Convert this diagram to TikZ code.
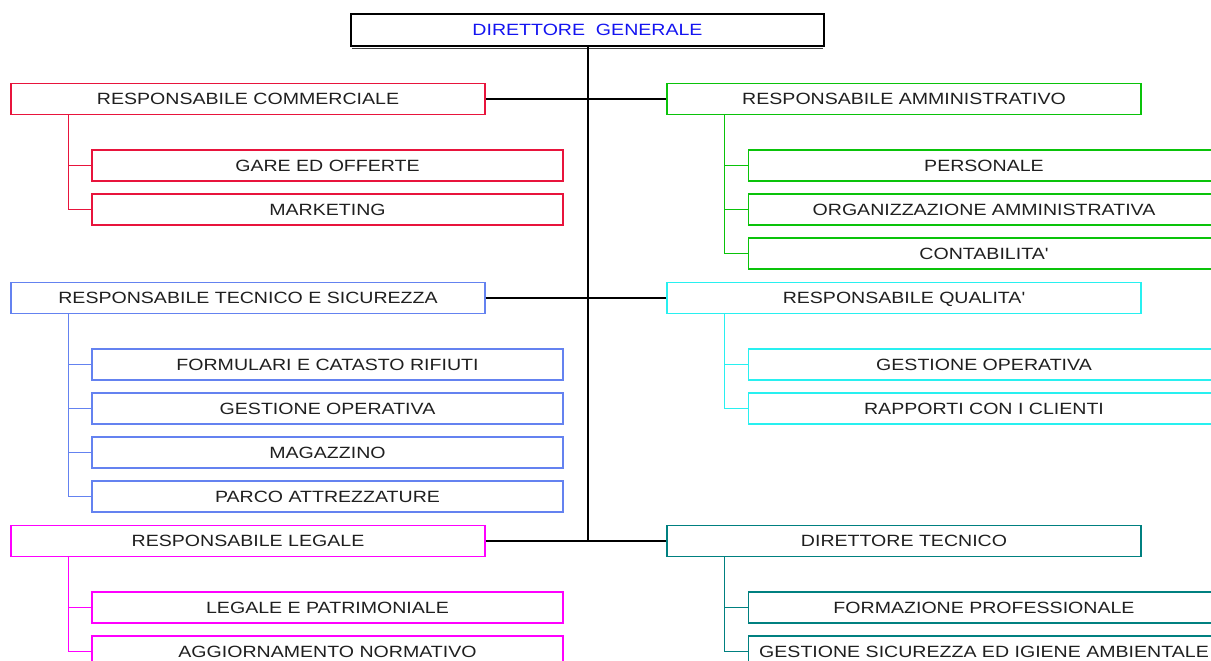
\documentclass[tikz,border=0pt]{standalone}
\usepackage{fontspec}
\newfontfamily\orgfont{Liberation Sans}[FakeStretch=1.2]
\definecolor{rosso}{RGB}{232,20,60}
\definecolor{verde}{RGB}{10,195,10}
\definecolor{blu}{RGB}{100,130,240}
\definecolor{ciano}{RGB}{40,240,240}
\definecolor{viola}{RGB}{255,0,255}
\definecolor{petrolio}{RGB}{0,128,128}
\definecolor{testodg}{RGB}{20,20,240}
\begin{document}
\begin{tikzpicture}[x=1pt,y=-1pt,
  box/.style={draw,line width=1.4pt,minimum height=31pt,inner sep=0pt,
    text height=11.7pt,text depth=0pt,text=black!88,
    font=\orgfont\fontsize{16.3}{18}\selectfont},
  resp/.style={box,draw=#1,minimum width=474pt},
  uff/.style={box,draw=#1,minimum width=471pt},
  ramo/.style={line width=1.5pt}]
    \useasboundingbox (0,0) rectangle (1211,661);
    \clip (0,0) rectangle (1211,661);
    % vertice
    \node[box,line width=2pt,minimum width=473pt,minimum height=32pt,text=testodg] (dg) at (587.5,30) {DIRETTORE\ \ GENERALE};
    \draw[line width=1.2pt,black!75] ([xshift=2pt,yshift=-1.8pt]dg.south west) -- ([xshift=-2pt,yshift=-1.8pt]dg.south east);
    % responsabili
    \node[resp=rosso] (rc) at (248,99) {RESPONSABILE COMMERCIALE};
    \node[resp=verde] (ra) at (904,99) {RESPONSABILE AMMINISTRATIVO};
    \node[resp=blu] (rts) at (248,298) {RESPONSABILE TECNICO E SICUREZZA};
    \node[resp=ciano] (rq) at (904,298) {RESPONSABILE QUALITA'};
    \node[resp=viola] (rl) at (248,541) {RESPONSABILE LEGALE};
    \node[resp=petrolio] (dt) at (904,541) {DIRETTORE TECNICO};
    % uffici
    \node[uff=rosso] (gare) at (327.5,165.5) {GARE ED OFFERTE};
    \node[uff=rosso] (mark) at (327.5,209.5) {MARKETING};
    \node[uff=verde] (pers) at (984,165.5) {PERSONALE};
    \node[uff=verde] (orga) at (984,209.5) {ORGANIZZAZIONE AMMINISTRATIVA};
    \node[uff=verde] (cont) at (984,253.5) {CONTABILITA'};
    \node[uff=blu] (form) at (327.5,364.5) {FORMULARI E CATASTO RIFIUTI};
    \node[uff=blu] (gop) at (327.5,408.5) {GESTIONE OPERATIVA};
    \node[uff=blu] (mag) at (327.5,452.5) {MAGAZZINO};
    \node[uff=blu] (parco) at (327.5,496.5) {PARCO ATTREZZATURE};
    \node[uff=ciano] (gopq) at (984,364.5) {GESTIONE OPERATIVA};
    \node[uff=ciano] (rapp) at (984,408.5) {RAPPORTI CON I CLIENTI};
    \node[uff=viola] (legp) at (327.5,607.5) {LEGALE E PATRIMONIALE};
    \node[uff=viola] (aggn) at (327.5,651.5) {AGGIORNAMENTO NORMATIVO};
    \node[uff=petrolio] (fprof) at (984,607.5) {FORMAZIONE PROFESSIONALE};
    \node[uff=petrolio] (gsic) at (984,651.5) {GESTIONE SICUREZZA ED IGIENE AMBIENTALE};
    % collegamenti
    \draw[line width=2pt] (dg.south) -- (dg.south |- rl.east);
    \draw[ramo] (rc.east) -- (ra.west);
    \draw[ramo] (rts.east) -- (rq.west);
    \draw[ramo] (rl.east) -- (dt.west);
    \draw[ramo,rosso] ([xshift=58pt]rc.south west) |- (gare.west);
    \draw[ramo,rosso] ([xshift=58pt]rc.south west) |- (mark.west);
    \draw[ramo,verde] ([xshift=58pt]ra.south west) |- (pers.west);
    \draw[ramo,verde] ([xshift=58pt]ra.south west) |- (orga.west);
    \draw[ramo,verde] ([xshift=58pt]ra.south west) |- (cont.west);
    \draw[ramo,blu] ([xshift=58pt]rts.south west) |- (form.west);
    \draw[ramo,blu] ([xshift=58pt]rts.south west) |- (gop.west);
    \draw[ramo,blu] ([xshift=58pt]rts.south west) |- (mag.west);
    \draw[ramo,blu] ([xshift=58pt]rts.south west) |- (parco.west);
    \draw[ramo,ciano] ([xshift=58pt]rq.south west) |- (gopq.west);
    \draw[ramo,ciano] ([xshift=58pt]rq.south west) |- (rapp.west);
    \draw[ramo,viola] ([xshift=58pt]rl.south west) |- (legp.west);
    \draw[ramo,viola] ([xshift=58pt]rl.south west) |- (aggn.west);
    \draw[ramo,petrolio] ([xshift=58pt]dt.south west) |- (fprof.west);
    \draw[ramo,petrolio] ([xshift=58pt]dt.south west) |- (gsic.west);
\end{tikzpicture}
\end{document}
